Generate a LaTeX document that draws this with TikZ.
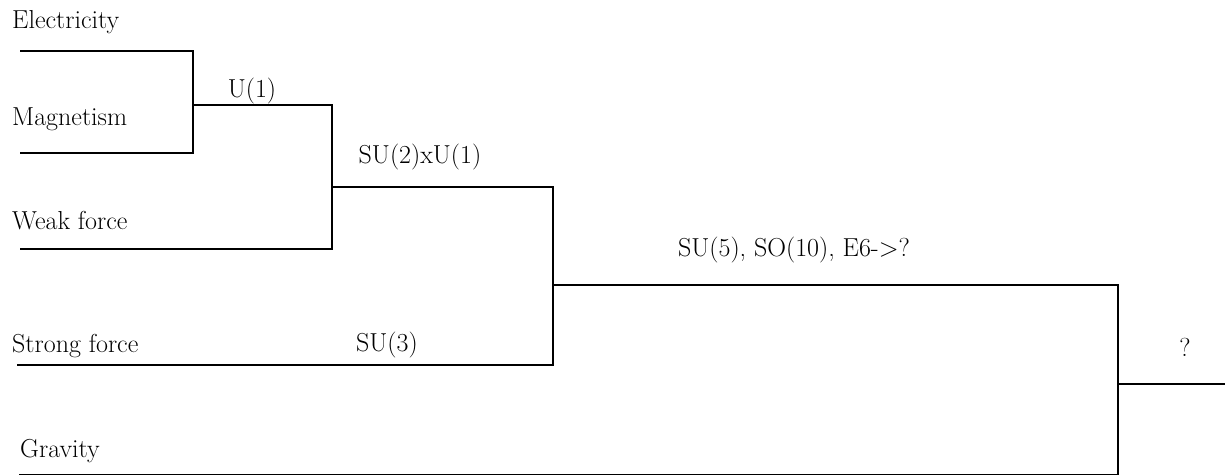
\documentclass[tikz,border=0pt]{standalone}
\usepackage{fontspec}
\begin{document}
\begin{tikzpicture}[x=1pt,y=-1pt,
  branch/.style={line width=1.7pt,line join=miter,line cap=rect},
  force/.style={anchor=base west,inner sep=0pt,font=\fontsize{26}{30}\selectfont},
  group/.style={anchor=base,inner sep=0pt,font=\fontsize{26}{30}\selectfont}]
\useasboundingbox[fill=white] (0,0) rectangle (1225,475);

% forces on the left
\node[force] (elec) at (12,28) {Electricity};
\node[force] (magn) at (12,125) {Magnetism};
\node[force] (weak) at (12,229) {Weak force};
\node[force] (strong) at (12,352) {Strong force};
\node[force] (grav) at (20,457) {Gravity};

% symmetry groups
\node[group] (u1) at (252,97) {U(1)};
\node[group] (su2u1) at (420,163) {SU(2)xU(1)};
\node[group] (su3) at (387,351) {SU(3)};
\node[group] (gut) at (794,256) {SU(5), SO(10), E6->?};
\node[group] (toe) at (1185,356) {?};

% branch end points and junctions
\coordinate (elecL) at (21,51);
\coordinate (magnL) at (21,153);
\coordinate (weakL) at (21,249);
\coordinate (strongL) at (18,365);
\coordinate (gravL) at (20,474.5);
\coordinate (j1a) at (193,51);
\coordinate (j1b) at (193,153);
\coordinate (j1m) at (193,105);
\coordinate (j2a) at (332,105);
\coordinate (j2b) at (332,249);
\coordinate (j2m) at (332,187);
\coordinate (j3a) at (553,187);
\coordinate (j3b) at (553,365);
\coordinate (j3m) at (553,285);
\coordinate (j4a) at (1118,285);
\coordinate (j4b) at (1118,474.5);
\coordinate (j4m) at (1118,384);
\coordinate (out) at (1225,384);

% electromagnetism
\draw[branch] (elecL) -- (j1a) -- (j1b) -- (magnL);
\draw[branch] (j1m) -- (j2a);
% electroweak
\draw[branch] (j2a) -- (j2b) -- (weakL);
\draw[branch] (j2m) -- (j3a);
% grand unification
\draw[branch] (j3a) -- (j3b) -- (strongL);
\draw[branch] (j3m) -- (j4a);
% with gravity
\draw[branch] (j4a) -- (j4b) -- (gravL);
\draw[branch] (j4m) -- (out);
\end{tikzpicture}
\end{document}
